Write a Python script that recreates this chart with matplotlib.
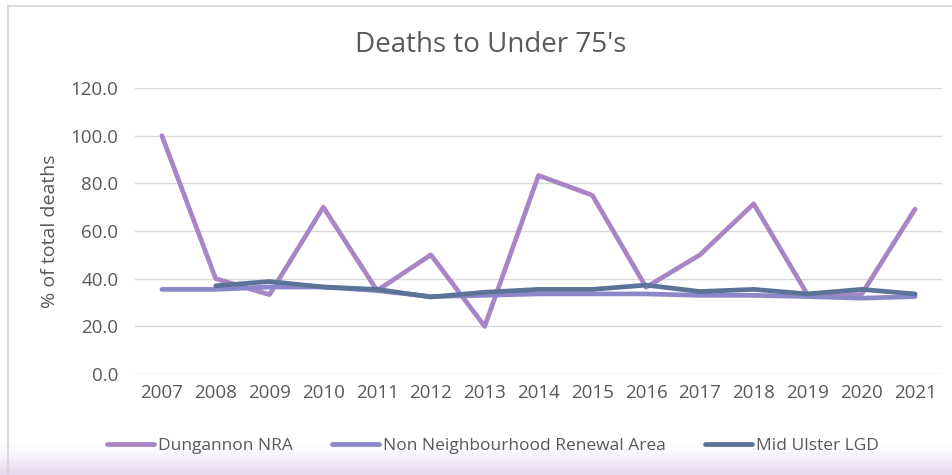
import matplotlib
matplotlib.use("Agg")
import matplotlib.pyplot as plt
import numpy as np

years = ["2007", "2008", "2009", "2010", "2011", "2012", "2013", "2014",
         "2015", "2016", "2017", "2018", "2019", "2020", "2021"]
dungannon_nra = [100.0, 40.0, 33.3, 70.0, 35.0, 50.0, 20.0, 83.3,
                 75.0, 36.4, 50.0, 71.4, 33.3, 33.3, 69.2]
non_nra = [35.5, 35.5, 36.5, 36.5, 35.0, 32.5, 33.0, 33.6,
           33.6, 33.6, 33.0, 33.0, 32.5, 31.8, 32.5]
mid_ulster = [None, 37.0, 38.8, 36.5, 35.5, 32.3, 34.3, 35.5,
              35.5, 37.3, 34.6, 35.5, 33.6, 35.5, 33.6]
series_names = ["Dungannon NRA", "Non Neighbourhood Renewal Area", "Mid Ulster LGD"]
yticks = [0, 20, 40, 60, 80, 100, 120]

colors = ["#A886C6", "#8C87C8", "#5B7399"]
text_color = "#595959"
plt.rcParams['font.family'] = ['Open Sans', 'DejaVu Sans']

fig = plt.figure(figsize=(9.52, 4.75), dpi=100)
W, H = 952, 475

# bottom lavender gradient
bg = fig.add_axes([0, 0, 1, 1], zorder=-10)
bg.set_axis_off()
grad = np.ones((H, 1, 4))
base = np.array([0.91, 0.86, 0.95])
for i in range(H):
    t = 0.0
    if i > 440:
        t = min(1.0, (i - 440) / 30.0) ** 1.5
    grad[i, 0, :3] = (1 - t) * 1.0 + t * base
bg.imshow(grad, aspect='auto', extent=[0, 1, 0, 1])
bg.set_xlim(0, 1); bg.set_ylim(0, 1)
bg.plot([8 / W, 1], [1 - 5.5 / H, 1 - 5.5 / H], color="#D9D9D9", lw=1.5)
bg.plot([8 / W, 8 / W], [0, 1 - 5.5 / H], color="#D9D9D9", lw=1.5)

left, right = 135 / W, 942 / W
bottom, top = 1 - 374 / H, 1 - 88 / H
ax = fig.add_axes([left, bottom, right - left, top - bottom])
ax.patch.set_alpha(0)

x = np.arange(len(years))
mu = np.array([np.nan if v is None else v for v in mid_ulster], dtype=float)
ax.plot(x, dungannon_nra, color=colors[0], lw=3.4, label=series_names[0], solid_capstyle='round')
ax.plot(x, non_nra, color=colors[1], lw=3.4, label=series_names[1], solid_capstyle='round')
ax.plot(x, mu, color=colors[2], lw=3.4, label=series_names[2], solid_capstyle='round')

ax.set_xlim(-0.5, len(years) - 0.5)
ax.set_ylim(0, 120)
ax.set_yticks(yticks)
ax.set_yticklabels([f"{v:.1f}" for v in yticks])
ax.set_xticks(x)
ax.set_xticklabels(years)
ax.tick_params(axis='both', length=0, labelsize=13.5, colors=text_color)
ax.tick_params(axis='y', pad=12)
ax.tick_params(axis='x', pad=7)
ax.grid(axis='y', color="#D9D9D9", lw=1)
ax.set_axisbelow(True)
for s in ax.spines.values():
    s.set_visible(False)

ax.set_ylabel("% of total deaths", fontsize=14, color=text_color, labelpad=8)
fig.text(491 / W, 1 - 45 / H, "Deaths to Under 75's", ha='center', va='center',
         fontsize=20, color=text_color)

leg = fig.legend(loc='center', bbox_to_anchor=(493 / W, 1 - 446 / H), ncol=3,
                 frameon=False, fontsize=12.5, handlelength=2.7, handletextpad=0.2,
                 columnspacing=2.3, labelcolor=text_color)

fig.savefig("out.png", dpi=100)
